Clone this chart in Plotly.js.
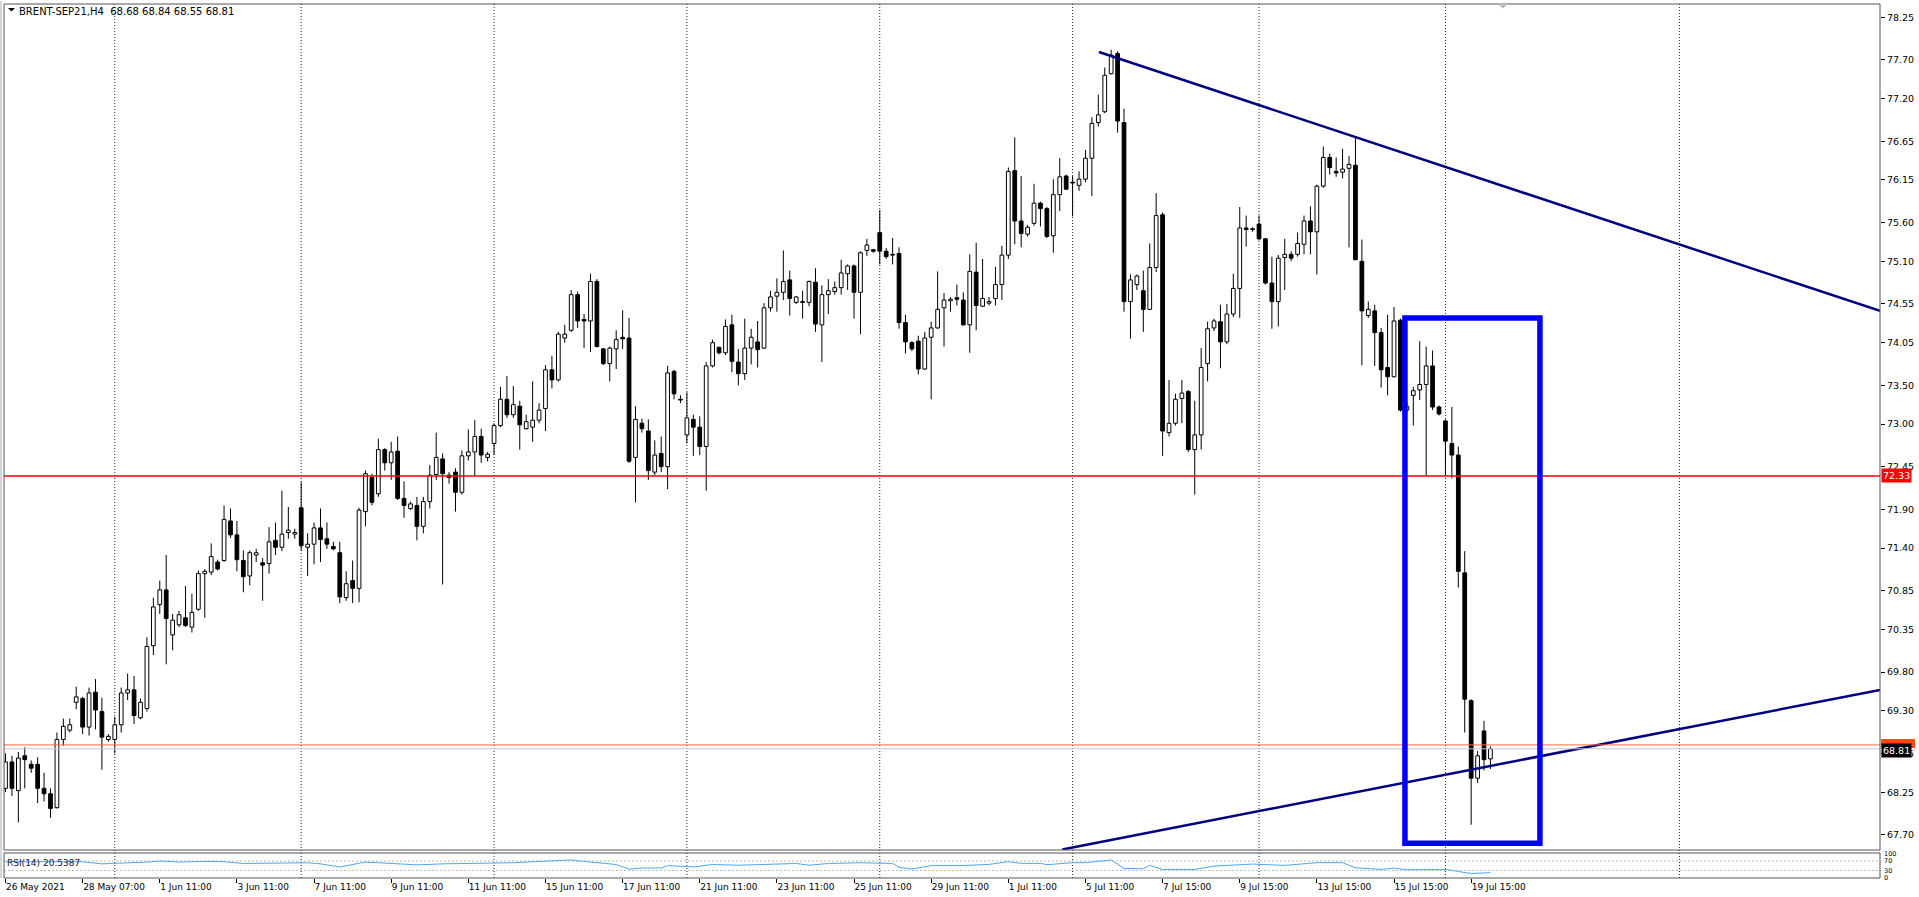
<!DOCTYPE html>
<html><head><meta charset="utf-8">
<script src="https://cdn.plot.ly/plotly-3.0.1.min.js"></script>
<style>html,body{margin:0;padding:0;background:#fff;overflow:hidden}#chart{width:1919px;height:897px}</style>
</head><body><div id="chart"></div>
<script>
// ---------------- data ----------------
const symbol = 'BRENT-SEP21,H4';
const open = [
68.30,68.64,68.27,68.72,68.61,68.61,68.30,68.23,68.05,68.93,
69.05,69.41,69.46,69.09,69.54,69.29,68.93,68.93,69.12,69.53,
69.57,69.21,69.33,70.14,70.67,70.86,70.28,70.41,70.50,70.38,
70.61,71.07,71.09,71.22,71.24,71.75,71.57,71.24,71.04,71.31,
71.21,71.20,71.50,71.41,71.60,71.58,71.92,71.41,71.45,71.66,
71.52,71.42,71.34,70.76,70.98,70.88,71.87,72.31,72.10,72.67,
72.50,72.65,72.04,71.91,71.95,71.68,72.00,72.35,72.55,72.34,
72.38,72.12,72.59,72.64,72.84,72.57,72.75,72.98,73.32,73.12,
73.23,72.94,72.96,73.05,73.20,73.70,73.57,74.11,74.21,74.67,
74.35,74.33,74.84,73.97,73.78,73.97,74.12,74.11,72.57,73.01,
72.91,72.38,72.62,72.45,73.68,73.32,72.86,73.06,72.96,72.71,
73.75,73.99,73.92,74.28,73.80,73.65,73.98,74.06,73.98,74.50,
74.65,74.70,74.86,74.57,74.58,74.57,74.83,74.28,74.67,74.71,
74.76,74.94,75.04,74.70,75.24,75.25,75.47,75.23,75.19,75.20,
74.31,74.05,74.07,73.71,74.12,74.24,74.50,74.59,74.63,74.60,
74.28,74.96,74.52,74.56,74.62,74.80,75.18,76.27,75.62,75.45,
75.59,75.85,75.78,75.43,75.96,76.20,76.12,76.08,76.16,76.43,
76.89,77.03,77.52,77.78,76.89,74.58,74.80,74.72,74.48,75.02,
75.70,72.89,73.01,73.33,73.42,72.67,72.86,73.78,74.24,74.32,
74.06,74.42,74.75,75.53,75.52,75.58,75.39,74.82,74.58,75.15,
75.19,75.19,75.32,75.62,75.48,76.07,76.44,76.26,76.25,76.30,
76.34,75.10,74.40,74.46,74.18,73.73,73.61,74.34,73.18,73.37,
73.44,73.51,73.75,73.22,73.04,72.75,72.60,71.08,69.43,68.43,
69.04,68.68];
const high = [
68.75,68.72,68.77,68.83,68.66,68.70,68.50,68.30,69.02,69.20,
69.20,69.61,69.48,69.60,69.71,69.47,69.00,69.22,69.60,69.78,
69.75,69.46,70.25,70.76,70.98,71.31,70.55,70.59,70.91,70.81,
71.11,71.13,71.46,71.25,71.95,71.91,71.75,71.37,71.37,71.39,
71.27,71.67,71.73,72.14,71.93,71.65,72.25,71.59,71.73,71.91,
71.73,71.48,71.48,71.10,71.24,71.92,72.40,72.36,72.81,72.69,
72.77,72.84,72.26,72.00,72.06,72.06,72.47,72.89,72.62,72.38,
72.43,72.66,72.93,73.05,72.94,72.64,73.01,73.48,73.62,73.49,
73.30,73.12,73.55,73.27,73.76,73.88,74.19,74.28,74.73,74.71,
74.42,74.94,74.87,73.98,74.00,74.21,74.47,74.37,73.23,73.07,
73.06,72.79,72.84,73.75,73.70,73.37,73.41,73.12,73.10,73.80,
74.09,74.00,74.35,74.41,73.97,74.36,74.23,74.33,74.56,74.72,
74.88,75.24,74.98,74.65,74.72,74.85,75.01,74.79,74.87,74.84,
75.12,75.06,75.06,75.23,75.39,75.26,75.76,75.27,75.40,75.28,
74.41,74.07,74.14,74.19,74.32,74.97,74.69,74.64,74.80,74.70,
75.19,75.34,75.13,74.64,75.03,75.30,76.31,76.70,76.20,75.57,
76.10,75.87,75.80,76.16,76.43,76.22,76.20,76.26,76.54,76.96,
77.25,77.60,77.83,77.81,77.07,74.93,74.93,74.98,75.33,75.98,
75.73,73.57,73.39,73.57,73.44,73.30,73.98,74.32,74.36,74.54,
74.55,74.94,75.80,75.69,75.54,75.69,75.40,75.16,75.18,75.39,
75.23,75.47,75.69,75.81,76.09,76.58,76.49,76.44,76.55,76.46,
76.69,75.38,74.58,74.54,74.24,74.41,74.51,74.36,73.29,73.48,
74.07,74.00,73.95,73.24,73.06,73.22,72.71,71.36,69.45,68.78,
69.17,68.84];
const low = [
68.25,68.20,67.86,68.30,68.50,68.11,68.13,67.92,68.04,68.85,
69.02,69.32,69.00,68.98,69.06,68.54,68.90,68.75,69.02,69.44,
69.13,69.19,69.29,70.02,70.55,69.90,70.08,70.38,70.38,70.31,
70.59,70.50,71.05,71.11,71.22,71.53,71.10,70.83,70.92,71.22,
70.72,71.07,71.31,71.36,71.52,71.52,71.37,71.04,71.19,71.22,
71.39,71.37,70.69,70.72,70.69,70.70,71.68,71.95,72.06,72.40,
72.28,72.02,71.79,71.89,71.50,71.59,71.91,72.28,70.93,72.23,
71.87,72.09,72.53,72.33,72.50,72.52,72.60,72.96,73.08,73.08,
72.67,72.93,72.77,73.01,72.91,73.46,73.55,74.05,74.19,74.24,
73.98,73.93,73.99,73.76,73.55,73.71,73.97,72.50,71.99,72.89,
72.28,72.34,72.38,72.16,73.32,73.27,72.75,72.59,72.60,72.14,
73.73,73.90,73.89,73.67,73.50,73.57,73.77,73.73,73.97,74.45,
74.45,74.60,74.40,74.55,74.36,74.52,74.19,73.80,74.42,74.67,
74.67,74.73,74.36,74.16,75.17,75.21,75.06,75.13,75.06,74.23,
73.91,73.94,73.64,73.70,73.32,74.23,74.00,74.45,74.53,74.27,
73.92,74.21,74.51,74.53,74.53,74.60,75.13,75.32,75.28,75.42,
75.56,75.55,75.40,75.21,75.75,76.02,75.68,76.01,76.12,75.94,
76.84,77.01,77.51,76.76,74.45,74.10,74.73,74.19,74.47,74.96,
72.59,72.84,72.98,73.01,72.64,72.09,72.67,73.55,74.20,73.72,
74.03,74.38,74.37,75.29,75.48,75.37,74.80,74.23,74.26,74.73,
75.10,75.16,75.19,75.19,74.93,76.05,76.22,76.19,76.17,75.28,
75.12,73.76,74.37,73.75,73.47,73.37,73.60,73.16,73.14,72.98,
73.31,72.33,73.18,73.11,72.33,72.30,70.89,69.02,67.83,68.37,
68.53,68.55];
const close = [
68.64,68.30,68.69,68.67,68.56,68.30,68.23,68.04,68.93,69.10,
69.12,69.48,69.09,69.53,69.31,68.96,68.97,69.12,69.53,69.57,
69.24,69.41,70.13,70.64,70.86,70.49,70.47,70.54,70.40,70.57,
71.07,71.10,71.29,71.13,71.77,71.57,71.25,71.03,71.34,71.34,
71.18,71.48,71.41,71.58,71.63,71.60,71.43,71.45,71.66,71.51,
71.45,71.39,70.77,70.94,70.88,71.89,72.36,71.99,72.67,72.50,
72.64,72.04,71.95,71.97,71.68,72.00,72.34,72.57,72.36,72.31,
72.12,72.59,72.64,72.84,72.60,72.61,72.98,73.32,73.12,73.25,
72.99,73.03,73.05,73.18,73.70,73.57,74.16,74.16,74.67,74.33,
74.33,74.84,74.00,73.78,73.98,74.09,74.10,72.52,73.06,72.94,
72.40,72.60,72.45,73.66,73.39,73.31,73.08,72.96,72.71,73.75,
74.05,73.92,74.26,73.81,73.65,73.98,74.12,73.96,74.50,74.64,
74.70,74.84,74.62,74.64,74.57,74.84,74.29,74.67,74.72,74.76,
74.95,75.04,74.70,75.21,75.31,75.23,75.23,75.16,75.18,74.31,
74.06,73.97,73.71,74.11,74.24,74.48,74.60,74.61,74.61,74.28,
74.97,74.53,74.62,74.58,74.80,75.18,76.26,75.62,75.46,75.54,
75.85,75.78,75.42,75.96,76.19,76.03,76.11,76.16,76.43,76.88,
76.99,77.50,77.76,76.91,74.58,74.86,74.91,74.48,75.02,75.69,
72.91,73.01,73.32,73.40,72.67,72.86,73.73,74.23,74.33,74.06,
74.42,74.75,75.53,75.51,75.51,75.39,74.82,74.58,75.14,75.19,
75.14,75.33,75.62,75.48,76.07,76.44,76.31,76.24,76.29,76.35,
75.12,74.46,74.48,74.18,73.70,73.61,74.33,73.18,73.23,73.43,
73.51,73.75,73.22,73.13,72.78,72.60,71.10,69.45,68.43,68.72,
68.67,68.81];

// time-axis labels (bar index of each label)
const timeTickIdx = [0,12,24,36,48,60,72,84,96,108,120,132,144,156,168,180,192,204,216,228];
const timeTickText = ['26 May 2021','28 May 07:00','1 Jun 11:00','3 Jun 11:00','7 Jun 11:00','9 Jun 11:00',
  '11 Jun 11:00','15 Jun 11:00','17 Jun 11:00','21 Jun 11:00','23 Jun 11:00','25 Jun 11:00','29 Jun 11:00',
  '1 Jul 11:00','5 Jul 11:00','7 Jul 15:00','9 Jul 15:00','13 Jul 15:00','15 Jul 15:00','19 Jul 15:00'];
// price-axis labels
const priceTickText = ['78.25','77.70','77.20','76.65','76.15','75.60','75.10','74.55','74.05','73.50','73.00',
  '72.45','71.90','71.40','70.85','70.35','69.80','69.30','68.75','68.25','67.70'];
// RSI-window scale labels
const rsiTickText = ['100','70','30','0'];
// weekly grid (bar index)
const gridIdx = [17,46,76,106,136,166,195,224,260.4];

// RSI(14)
const rsiIdx = [0,12,15,17,22,24,27,31,34,37,40,44,47,49,52,56,58,60,64,68,72,76,79,83,88,91,95,97,99,102,
  103,107,110,114,119,123,125,128,133,138,139,141,144,149,153,156,158,161,162,166,168,172,174,177,178,180,
  183,185,188,191,194,199,202,204,208,210,214,216,218,222,224,228,231];
const rsiVal = [67,67,58,59.6,65.6,70,65.6,68.5,67,59.6,59.6,62.6,62.6,58,44.8,65.6,62.6,62.6,53.7,58,59.6,
  62.6,62.6,68.5,74.4,65.6,55.2,35.9,40.4,40.4,50.7,44.8,55.2,52.2,55.2,59.6,52.2,59.6,62.6,59.6,43.3,35.9,
  50.7,50.7,55.7,67.1,60,60,54.3,62.9,62.9,74.3,38.6,37.1,51.4,34.3,34.3,34.3,48.6,51.4,57.1,51.4,57.1,62.9,
  62.9,41.4,34.3,40,32.9,34.3,34.3,17.1,20.54];
const rsiLast = '20.5387';
const rsiLevels = [70, 30];

// chart objects
const redLevel = 72.33;
const bidPrice = 68.81;
const askPrice = 68.86;
const trendDownIdx = [170.1, 291.6], trendDownPrice = [77.80, 74.46];
const trendUpIdx = [164.4, 291.6], trendUpPrice = [67.51, 69.57];
const boxIdx = [217.7, 238.7], boxPrice = [67.59, 74.37];

// ---------------- build ----------------
const N = close.length;
const idx = close.map((_, i) => i);
const bull = idx.filter(i => close[i] >= open[i]);
const bear = idx.filter(i => close[i] < open[i]);

const wx = [], wy = [];
idx.forEach(i => {
  const top = Math.max(open[i], close[i]), bot = Math.min(open[i], close[i]);
  wx.push(i, i, null, i, i, null);
  wy.push(low[i], bot, null, top, high[i], null);
});

const FONT = 'DejaVu Sans, Verdana, sans-serif';
const traces = [
  {type:'scatter', mode:'lines', x:wx, y:wy, line:{color:'#000', width:1}, hoverinfo:'skip', xaxis:'x', yaxis:'y'},
  {type:'bar', x:bull, base:bull.map(i=>open[i]), y:bull.map(i=>close[i]-open[i]), width:0.58,
   marker:{color:'#fff', line:{color:'#000', width:1}}, hoverinfo:'skip', xaxis:'x', yaxis:'y'},
  {type:'bar', x:bear, base:bear.map(i=>close[i]), y:bear.map(i=>open[i]-close[i]), width:0.58,
   marker:{color:'#000', line:{color:'#000', width:1}}, hoverinfo:'skip', xaxis:'x', yaxis:'y'},
  {type:'scatter', mode:'lines', x:trendDownIdx, y:trendDownPrice, line:{color:'#000080', width:2.5}, hoverinfo:'skip', xaxis:'x', yaxis:'y'},
  {type:'scatter', mode:'lines', x:trendUpIdx, y:trendUpPrice, line:{color:'#000080', width:2.5}, hoverinfo:'skip', xaxis:'x', yaxis:'y'},
  {type:'scatter', mode:'lines', x:rsiIdx, y:rsiVal, line:{color:'#4ea6f2', width:1}, hoverinfo:'skip', xaxis:'x', yaxis:'y2'}
];

// pixel helpers for paper coords (plot area: x 4..1880, y 4..878)
const PX = px => (px - 4) / 1876;
const PY = py => (878 - py) / 874;

const shapes = [];
gridIdx.forEach(g => shapes.push({type:'line', xref:'x', yref:'paper', x0:g, x1:g, y0:0, y1:1,
  line:{color:'#222', width:1, dash:'1px,2px'}, layer:'below'}));
rsiLevels.forEach(v => shapes.push({type:'line', xref:'paper', yref:'y2', x0:0, x1:1, y0:v, y1:v,
  line:{color:'#b8b8b8', width:1, dash:'2px,2px'}, layer:'below'}));
shapes.push({type:'line', xref:'paper', yref:'y', x0:0, x1:1, y0:askPrice, y1:askPrice, line:{color:'#ff6a3a', width:1}});
shapes.push({type:'line', xref:'paper', yref:'y', x0:0, x1:1, y0:bidPrice, y1:bidPrice, line:{color:'#c8c8c8', width:1}});
shapes.push({type:'line', xref:'paper', yref:'y', x0:0, x1:1, y0:redLevel, y1:redLevel, line:{color:'#ff0000', width:1.4}});
shapes.push({type:'rect', xref:'x', yref:'y', x0:boxIdx[0], x1:boxIdx[1], y0:boxPrice[0], y1:boxPrice[1],
  line:{color:'#0000ff', width:5.5}, fillcolor:'rgba(0,0,0,0)'});
// ask price tag (mostly hidden behind the bid tag)
shapes.push({type:'rect', xref:'paper', yref:'paper', x0:PX(1881), x1:PX(1915), y0:PY(748), y1:PY(739),
  fillcolor:'#ff4b12', line:{width:0}});
// window frames
shapes.push({type:'rect', xref:'paper', yref:'paper', x0:0, x1:1, y0:PY(850), y1:1, line:{color:'#555', width:1}});
shapes.push({type:'rect', xref:'paper', yref:'paper', x0:0, x1:1, y0:0, y1:PY(853), line:{color:'#555', width:1}});
shapes.push({type:'line', xref:'paper', yref:'paper', x0:PX(1), x1:PX(1), y0:0, y1:PY(1), line:{color:'#aaa', width:1}});
// header triangle and chart-shift marker
shapes.push({type:'path', xref:'paper', yref:'paper',
  path:`M ${PX(8)} ${PY(8)} L ${PX(15)} ${PY(8)} L ${PX(11.5)} ${PY(11.5)} Z`, fillcolor:'#000', line:{width:0}});
shapes.push({type:'path', xref:'paper', yref:'paper',
  path:`M ${PX(1498)} ${PY(4)} L ${PX(1508)} ${PY(4)} L ${PX(1503)} ${PY(8.5)} Z`, fillcolor:'#bdbdbd', line:{width:0}});

const last = N - 1;
const header = `${symbol}\u00a0\u00a0${open[last].toFixed(2)} ${high[last].toFixed(2)} ${low[last].toFixed(2)} ${close[last].toFixed(2)}`;
const annotations = [
  {xref:'paper', yref:'paper', x:PX(18), y:PY(11), xanchor:'left', yanchor:'middle', text:header, showarrow:false,
   font:{family:FONT, size:10, color:'#000'}, borderpad:0},
  {xref:'paper', yref:'paper', x:PX(6), y:PY(863), xanchor:'left', yanchor:'middle', text:`RSI(14) ${rsiLast}`, showarrow:false,
   font:{family:FONT, size:9, color:'#1a1a3a'}, borderpad:0},
  {xref:'paper', yref:'y', x:PX(1881), y:redLevel, xanchor:'left', yanchor:'middle', text:redLevel.toFixed(2), showarrow:false,
   bgcolor:'#ff0000', font:{family:FONT, size:9.5, color:'#fff'}, borderpad:1},
  {xref:'paper', yref:'y', x:PX(1881), y:bidPrice - 0.02, xanchor:'left', yanchor:'middle', text:bidPrice.toFixed(2), showarrow:false,
   bgcolor:'#000', font:{family:FONT, size:9.5, color:'#fff'}, borderpad:1}
];
// RSI scale labels, squeezed into the small window
const rsiLabelY = [100, 72, 28, 0];
rsiTickText.forEach((t, k) => annotations.push({xref:'paper', yref:'y2', x:PX(1883), y:rsiLabelY[k],
  xanchor:'left', yanchor:'middle', text:t, showarrow:false, font:{family:FONT, size:6.5, color:'#000'}, borderpad:0}));

const layout = {
  width:1919, height:897,
  margin:{l:4, r:39, t:4, b:19, pad:0},
  paper_bgcolor:'#fff', plot_bgcolor:'#fff',
  showlegend:false, barmode:'overlay', hovermode:false, dragmode:false,
  font:{family:FONT, size:9, color:'#000'},
  xaxis:{range:[-0.233, 291.6], anchor:'y2', showgrid:false, zeroline:false, showline:false,
    tickmode:'array', tickvals:timeTickIdx, ticktext:timeTickText, ticks:'outside', ticklen:4, tickcolor:'#000',
    ticklabelposition:'outside right', tickfont:{family:FONT, size:9, color:'#000'}, fixedrange:true},
  yaxis:{domain:[PY(850), 1], range:[67.504, 78.42], side:'right', showgrid:false, zeroline:false, showline:false,
    tickmode:'array', tickvals:priceTickText.map(Number), ticktext:priceTickText, ticks:'outside', ticklen:4,
    tickcolor:'#000', tickfont:{family:FONT, size:9.5, color:'#000'}, fixedrange:true},
  yaxis2:{domain:[0, PY(853)], range:[-2, 104], side:'right', showgrid:false, zeroline:false, showline:false,
    showticklabels:false, ticks:'', fixedrange:true},
  shapes:shapes, annotations:annotations
};

Plotly.newPlot('chart', traces, layout, {displayModeBar:false, responsive:false});
</script>
</body></html>
